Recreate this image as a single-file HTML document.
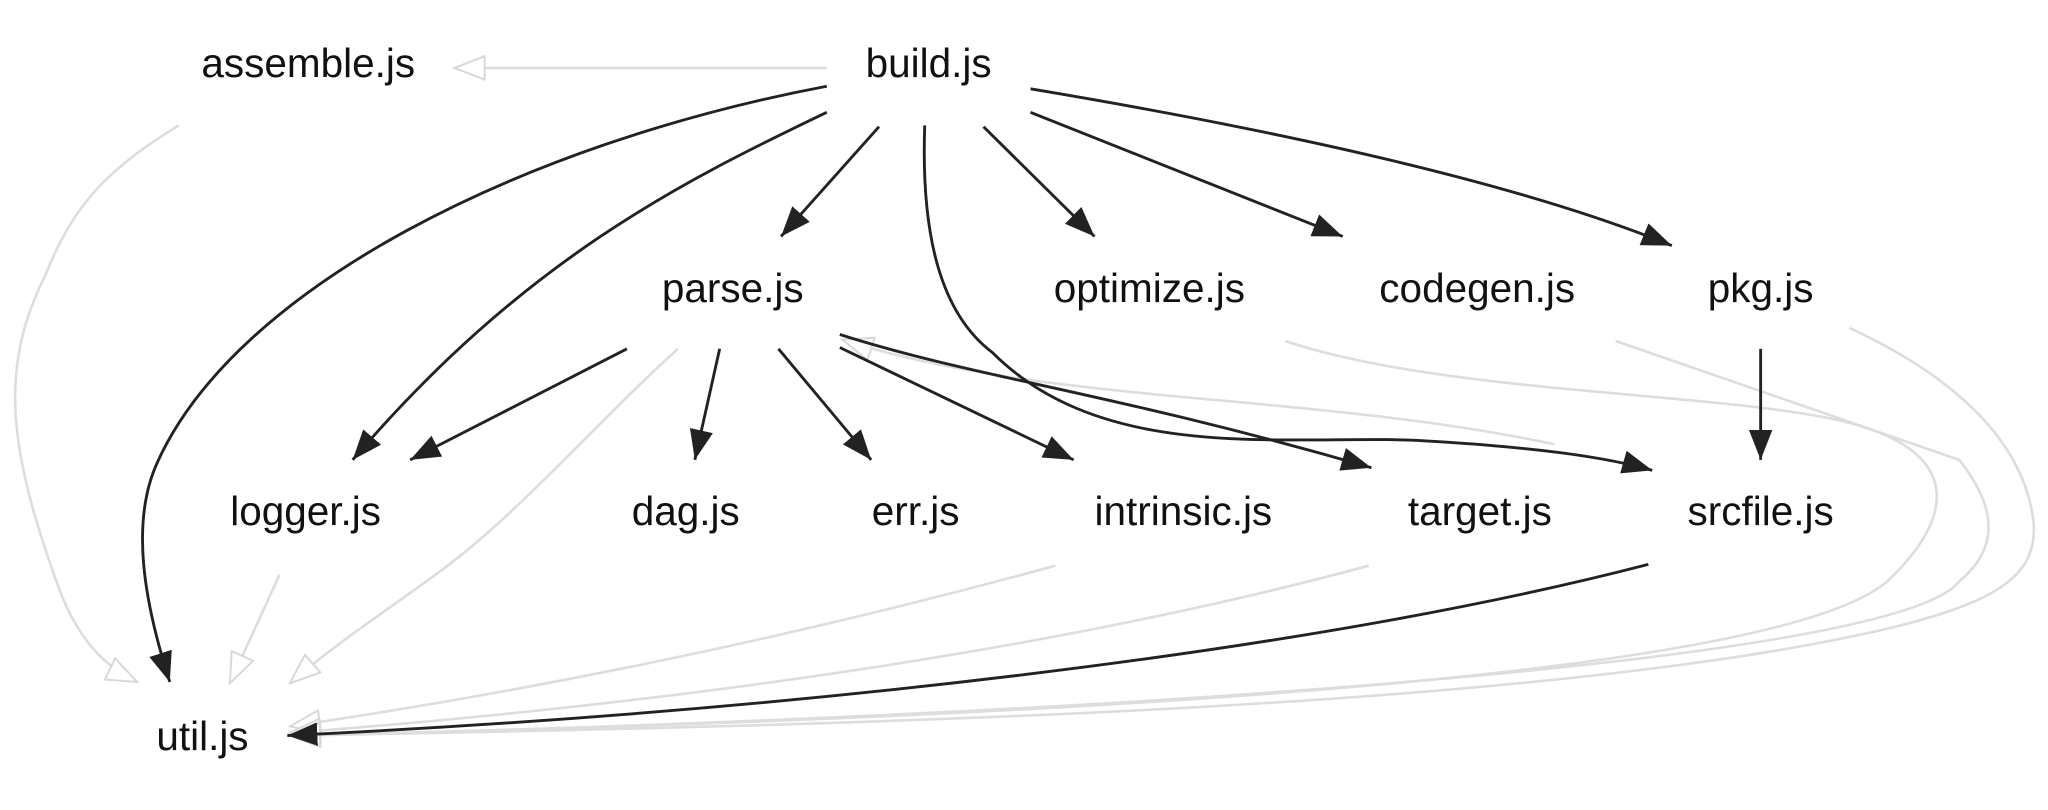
<!DOCTYPE html>
<html><head><meta charset="utf-8"><style>
html,body{margin:0;padding:0;background:#fff;width:2048px;height:810px;overflow:hidden}
svg{display:block}
text{font-family:"Liberation Sans",sans-serif;font-size:31px;fill:#111;text-anchor:middle}
</style></head><body>
<svg width="2048" height="810" viewBox="0 0 1568 620" preserveAspectRatio="none">
<defs>
<marker id="b" markerWidth="26" markerHeight="20" refX="23" refY="9" orient="auto" markerUnits="userSpaceOnUse">
<path d="M0,0 L23,9 L0,18 Z" fill="#222"/></marker>
<marker id="g" markerWidth="28" markerHeight="22" refX="24" refY="10" orient="auto" markerUnits="userSpaceOnUse">
<path d="M1,1 L24,10 L1,19 Z" fill="#fff" stroke="#d8d8d8" stroke-width="1.5"/></marker>
</defs>
<g fill="none" stroke="#ddd" stroke-width="2" marker-end="url(#g)">
<path d="M633,52 L348,52"/>
<path d="M519,267 C450,330 400,390 340,435 C300,465 260,490 222,523"/>
<path d="M1190,340 C1000,300 800,310 645,260"/>
<path d="M214,440 L176,523"/>
<path d="M137,96 C80,130 55,160 35,210 C0,280 5,340 45,450 C60,490 80,510 105,522"/>
<path d="M808,433 C600,490 400,530 222,556"/>
<path d="M1048,433 C800,500 500,540 222,561"/>
<path d="M984,261 C1100,300 1300,300 1400,320 C1500,340 1500,390 1450,440 C1380,520 800,550 222,563"/>
<path d="M1237,261 L1500,352 C1530,390 1530,420 1500,445 C1450,510 800,550 222,563"/>
<path d="M1416,251 C1500,290 1550,340 1557,400 C1560,440 1530,460 1450,480 C1200,540 700,555 222,563"/>
</g>
<g fill="none" stroke="#222" stroke-width="2.2" marker-end="url(#b)">
<path d="M633,66 C400,110 180,220 120,355 C100,400 110,460 130,522"/>
<path d="M633,86 C520,140 400,200 270,352"/>
<path d="M673,97 L598,181"/>
<path d="M708,96 C705,180 720,240 760,270 C850,360 1000,330 1100,338 C1180,343 1230,350 1265,360"/>
<path d="M753,97 L838,181"/>
<path d="M789,86 L1028,181"/>
<path d="M789,68 C950,95 1150,135 1280,188"/>
<path d="M480,267 L314,352"/>
<path d="M551,267 L532,352"/>
<path d="M596,267 L667,352"/>
<path d="M643,266 L822,352"/>
<path d="M643,256 C750,290 850,300 1050,358"/>
<path d="M1348,267 L1348,352"/>
<path d="M1262,432 C1000,500 600,545 220,563"/>
</g>
<text x="236" y="59">assemble.js</text>
<text x="711" y="59">build.js</text>
<text x="561" y="231">parse.js</text>
<text x="880" y="231">optimize.js</text>
<text x="1131" y="231">codegen.js</text>
<text x="1348" y="231">pkg.js</text>
<text x="234" y="402">logger.js</text>
<text x="525" y="402">dag.js</text>
<text x="701" y="402">err.js</text>
<text x="906" y="402">intrinsic.js</text>
<text x="1133" y="402">target.js</text>
<text x="1348" y="402">srcfile.js</text>
<text x="155" y="574">util.js</text>
</svg>
</body></html>
